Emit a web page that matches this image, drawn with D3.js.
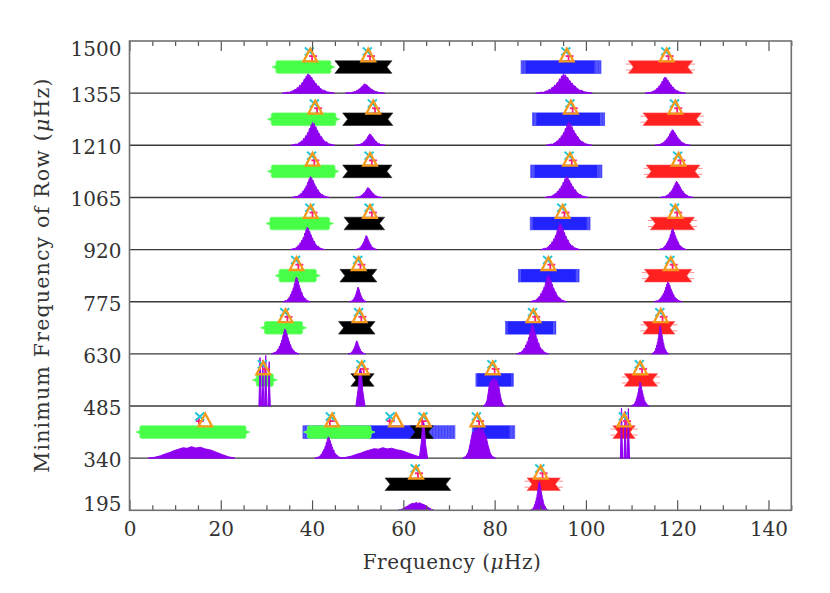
<!DOCTYPE html>
<html>
<head>
<meta charset="utf-8">
<script src="https://cdn.jsdelivr.net/npm/d3@7"></script>
<style>
body { margin: 0; background: #fff; }
</style>
</head>
<body>
<div id="chart"></div>
<script>
// lower edge of each row (uHz), rows are 145 uHz tall
var rowMins = [195, 340, 485, 630, 775, 920, 1065, 1210, 1355];
var rowSpan = 145;
var yTicks = [195, 340, 485, 630, 775, 920, 1065, 1210, 1355, 1500];
var xMajor = [0, 20, 40, 60, 80, 100, 120, 140];
var xMinor = [5, 10, 15, 25, 30, 35, 45, 50, 55, 65, 70, 75, 85, 90, 95, 105, 110, 115, 125, 130, 135, 145];

// bars: [rowMin, lo, hi]  (green ones given tip to tip)
var greenBars = [
 [1355, 31.2, 45.0], [1210, 30.2, 46.1], [1065, 30.2, 45.9], [920, 29.9, 44.7],
 [775, 31.9, 41.8], [630, 28.7, 38.8], [485, 26.9, 32.4], [340, 1.4, 26.4], [340, 38.1, 53.8]
];
var blackBars = [
 [1355, 45.0, 57.5], [1210, 46.7, 57.7], [1065, 46.7, 57.5], [920, 47.0, 55.9],
 [775, 46.1, 54.2], [630, 45.8, 53.8], [485, 48.5, 53.6], [340, 61.5, 66.6], [195, 56.0, 70.4]
];
var redBars = [
 [1355, 109.3, 123.4], [1210, 112.5, 125.3], [1065, 113.2, 125.0], [920, 114.1, 123.8],
 [775, 112.8, 123.2], [630, 112.5, 119.5], [485, 108.4, 115.7], [340, 105.9, 110.8], [195, 87.1, 94.4]
];
// blue: [rowMin, lo, coreLo, coreHi, hi]
var blueBars = [
 [1355, 85.8, 86.8, 101.9, 103.3], [1210, 88.3, 89.2, 103.1, 104.1], [1065, 87.9, 88.8, 102.5, 103.5],
 [920, 87.8, 88.4, 100.2, 100.9], [775, 85.2, 85.7, 97.8, 98.5], [630, 82.4, 82.8, 92.8, 93.4],
 [485, 75.9, 76.2, 83.7, 84.1], [340, 38.0, 39.5, 65.5, 71.3], [340, 75.1, 75.5, 83.3, 84.4]
];
// marker clusters: [rowMin, triangle, cross, asterisk]
var markers = [
 [1355, 39.6, 39.4, 40.0], [1355, 52.3, 52.1, 52.7], [1355, 95.8, 95.6, 96.2], [1355, 117.7, 117.5, 118.1],
 [1210, 40.7, 40.5, 41.1], [1210, 53.4, 53.2, 53.8], [1210, 96.7, 96.5, 97.1], [1210, 119.6, 119.4, 120.0],
 [1065, 40.1, 39.9, 40.5], [1065, 52.7, 52.5, 53.1], [1065, 96.5, 96.3, 96.9], [1065, 120.3, 120.1, 120.7],
 [920, 39.7, 39.5, 40.1], [920, 52.7, 52.5, 53.1], [920, 94.9, 94.7, 95.3], [920, 119.6, 119.4, 120.0],
 [775, 36.6, 36.4, 37.0], [775, 50.2, 50.0, 50.6], [775, 91.8, 91.6, 92.2], [775, 118.6, 118.4, 119.0],
 [630, 34.2, 34.0, 34.6], [630, 50.4, 50.2, 50.8], [630, 88.5, 88.3, 88.9], [630, 116.4, 116.2, 116.8],
 [485, 29.3, 29.1, 29.7], [485, 50.9, 50.7, 51.3], [485, 79.6, 79.4, 80.0], [485, 111.9, 111.7, 112.3],
 [340, 16.6, 15.4, 15.2], [340, 44.4, 44.0, 43.9], [340, 58.4, 57.1, 57.0], [340, 64.5, 64.3, 64.1],
 [340, 76.2, 76.0, 76.6], [340, 108.4, 108.2, 108.8],
 [195, 62.8, 62.6, 63.2], [195, 90.1, 89.9, 90.5]
];
// power peaks: [rowMin, centre, halfWidth, height (fraction of row), shape]
var peaks = [
 [1355, 39.2, 5.7, 0.37, 'm'], [1355, 51.6, 4.3, 0.18, 'm'], [1355, 95.2, 6.2, 0.37, 'm'], [1355, 117.4, 4.4, 0.31, 'm'],
 [1210, 40.2, 4.8, 0.44, 'm'], [1210, 52.7, 3.3, 0.22, 'm'], [1210, 96.3, 5.0, 0.44, 'm'], [1210, 119.0, 3.9, 0.30, 'm'],
 [1065, 39.7, 4.1, 0.40, 'm'], [1065, 52.3, 3.0, 0.19, 'm'], [1065, 95.8, 4.8, 0.40, 'm'], [1065, 119.9, 3.6, 0.31, 'm'],
 [920, 39.0, 3.8, 0.43, 'm'], [920, 51.9, 2.4, 0.27, 'm'], [920, 94.4, 4.3, 0.50, 'm'], [920, 119.0, 3.1, 0.40, 'm'],
 [775, 36.6, 3.0, 0.475, 'm'], [775, 50.1, 1.9, 0.28, 'm'], [775, 91.8, 4.0, 0.51, 'm'], [775, 118.0, 3.1, 0.38, 'm'],
 [630, 34.1, 3.0, 0.48, 'm'], [630, 49.8, 1.9, 0.25, 'm'], [630, 88.3, 3.5, 0.56, 'm'], [630, 116.3, 1.9, 0.54, 'm'],
 [485, 28.6, 0.25, 0.93, 's'], [485, 29.2, 0.25, 0.88, 's'], [485, 29.85, 0.25, 0.97, 's'], [485, 30.6, 0.25, 0.85, 's'],
 [485, 50.6, 1.0, 0.73, 's'], [485, 79.9, 2.4, 0.54, 'f'], [485, 111.9, 2.0, 0.46, 'm'],
 [340, 13.6, 9.5, 0.22, 'h'], [340, 43.6, 3.0, 0.41, 'm'], [340, 55.5, 9.5, 0.20, 'h'], [340, 64.4, 0.9, 0.70, 's'],
 [340, 76.6, 3.6, 0.59, 'f'], [340, 107.8, 0.25, 0.96, 's'], [340, 108.6, 0.25, 0.90, 's'], [340, 109.3, 0.25, 0.95, 's'],
 [195, 62.8, 4.0, 0.15, 'h'], [195, 89.8, 2.0, 0.55, 'm']
];
// normalised peak outlines: [offset (-1..1), height (0..1)]
var shapes = {
 m: [[-1, 0], [-0.9, 0.02], [-0.8, 0.05], [-0.72, 0.04], [-0.65, 0.1], [-0.58, 0.12], [-0.52, 0.2], [-0.47, 0.17],
     [-0.42, 0.31], [-0.38, 0.26], [-0.33, 0.42], [-0.29, 0.38], [-0.24, 0.56], [-0.2, 0.52], [-0.16, 0.74],
     [-0.12, 0.7], [-0.08, 0.9], [-0.05, 0.84], [-0.02, 1.0], [0.02, 0.86], [0.05, 0.95], [0.09, 0.78],
     [0.13, 0.82], [0.17, 0.64], [0.21, 0.66], [0.25, 0.5], [0.29, 0.52], [0.34, 0.36], [0.39, 0.38],
     [0.44, 0.26], [0.5, 0.22], [0.56, 0.14], [0.62, 0.15], [0.7, 0.07], [0.8, 0.05], [0.9, 0.02], [1, 0]],
 s: [[-1, 0], [-0.5, 0.45], [-0.2, 0.92], [0, 1], [0.2, 0.9], [0.5, 0.4], [1, 0]],
 f: [[-1, 0], [-0.8, 0.06], [-0.65, 0.2], [-0.55, 0.45], [-0.45, 0.72], [-0.38, 0.85], [-0.3, 0.78], [-0.22, 0.94],
     [-0.12, 0.88], [0, 1], [0.12, 0.86], [0.22, 0.94], [0.32, 0.8], [0.42, 0.7], [0.55, 0.4], [0.68, 0.16], [0.8, 0.06], [1, 0]],
 h: [[-1, 0], [-0.85, 0.08], [-0.72, 0.2], [-0.6, 0.38], [-0.5, 0.5], [-0.4, 0.66], [-0.3, 0.78], [-0.2, 0.9],
     [-0.1, 0.86], [0, 1], [0.1, 0.88], [0.2, 0.95], [0.32, 0.8], [0.45, 0.7], [0.58, 0.5], [0.7, 0.32], [0.85, 0.12], [1, 0]]
};

var W = 830, H = 593;
var x = d3.scaleLinear().domain([0, 145]).range([129.5, 791.3]);
var y = d3.scaleLinear().domain([195, 1500]).range([510.3, 41]);

var svg = d3.select('#chart').append('svg')
 .attr('width', W).attr('height', H)
 .style('font-family', 'DejaVu Serif')
 .style('background', '#fff');

var barH = 12.6, notch = 5, tip = 4;
function mid(r) { return y(r + rowSpan * 0.5); }

// row separators
svg.append('g').selectAll('line').data(rowMins.slice(1)).enter().append('line')
 .attr('x1', x(0)).attr('x2', x(145))
 .attr('y1', function(d) { return y(d); }).attr('y2', function(d) { return y(d); })
 .style('stroke', '#3a3a3a').style('stroke-width', 1.4);

// blue bars: light spread, striations, solid core
var gBlue = svg.append('g');
blueBars.forEach(function(d) {
 var c = mid(d[0]);
 gBlue.append('rect')
  .attr('x', x(d[1])).attr('width', x(d[4]) - x(d[1]))
  .attr('y', c - barH / 2).attr('height', barH)
  .style('fill', '#6e6eff').style('stroke', '#5656ff').style('stroke-width', 0.8);
 [[d[1], d[2]], [d[3], d[4]]].forEach(function(s) {
  for (var px = x(s[0]) + 1; px < x(s[1]); px += 1.5) {
   gBlue.append('line')
    .attr('x1', px).attr('x2', px).attr('y1', c - barH / 2).attr('y2', c + barH / 2)
    .style('stroke', '#2626ff').style('stroke-width', 0.8).style('opacity', 0.8);
  }
 });
 gBlue.append('rect')
  .attr('x', x(d[2])).attr('width', x(d[3]) - x(d[2]))
  .attr('y', c - barH / 2).attr('height', barH)
  .style('fill', '#2323ff');
});

// green spindles
svg.append('g').selectAll('path').data(greenBars).enter().append('path')
 .attr('d', function(d) {
  var lo = x(d[1]), hi = x(d[2]), c = mid(d[0]), h = barH / 2;
  var t = Math.min(tip, (hi - lo) / 4);
  var p = [[lo, c], [lo + t, c - 1.6], [lo + t, c - h + 1], [lo + t + 1.5, c - h], [hi - t - 1.5, c - h],
   [hi - t, c - h + 1], [hi - t, c - 1.6], [hi, c], [hi - t, c + 1.6], [hi - t, c + h - 1],
   [hi - t - 1.5, c + h], [lo + t + 1.5, c + h], [lo + t, c + h - 1], [lo + t, c + 1.6]];
  return d3.line()(p) + 'Z';
 })
 .style('fill', '#48ff48').style('stroke', '#6cff6c').style('stroke-width', 0.8);

function ribbon(d) {
 var lo = x(d[1]), hi = x(d[2]), c = mid(d[0]), h = barH / 2;
 return d3.line()([[lo, c - h], [hi, c - h], [hi - notch, c], [hi, c + h], [lo, c + h], [lo + notch, c]]) + 'Z';
}
svg.append('g').selectAll('path').data(blackBars).enter().append('path')
 .attr('d', ribbon).style('fill', '#000').style('stroke', '#222').style('stroke-width', 0.6);

var gRed = svg.append('g');
gRed.selectAll('path').data(redBars).enter().append('path')
 .attr('d', ribbon).style('fill', '#ff2020').style('stroke', '#ff5050').style('stroke-width', 0.6);
redBars.forEach(function(d) {
 var c = mid(d[0]);
 [-3, 3].forEach(function(o) {
  gRed.append('line').attr('x1', x(d[1]) - 2.5).attr('x2', x(d[1]) + 3).attr('y1', c + o).attr('y2', c + o)
   .style('stroke', '#ff9090').style('stroke-width', 1);
  gRed.append('line').attr('x1', x(d[2]) - 3).attr('x2', x(d[2]) + 2.5).attr('y1', c + o).attr('y2', c + o)
   .style('stroke', '#ff9090').style('stroke-width', 1);
 });
});

// power profiles
var gPeak = svg.append('g');
peaks.forEach(function(p) {
 var pts = shapes[p[4]].map(function(s) {
  return [x(p[1] + s[0] * p[2]), y(p[0] + s[1] * p[3] * rowSpan)];
 });
 gPeak.append('path')
  .attr('d', d3.line()(pts) + 'Z')
  .style('fill', '#8f00f0').style('stroke', '#8f00f0').style('stroke-width', 1)
  .style('stroke-linejoin', 'miter');
});

// marker clusters: pink asterisk, cyan cross, orange triangle
var gMark = svg.append('g');
markers.forEach(function(m) {
 var ty = y(m[0] + rowSpan * 0.72), cy = y(m[0] + rowSpan * 0.8);
 var tx = x(m[1]), cx = x(m[2]), ax = x(m[3]);
 [[-3, 0.5, 5, 0.5], [0, -3.5, 0, 5.5]].forEach(function(l) {
  gMark.append('line').attr('x1', ax + l[0]).attr('y1', ty + l[1]).attr('x2', ax + l[2]).attr('y2', ty + l[3])
   .style('stroke', '#ff1f7a').style('stroke-width', 1.8);
 });
 [[-4.5, -4, 4.5, 4], [-4.5, 4, 4.5, -4]].forEach(function(l) {
  gMark.append('line').attr('x1', cx + l[0]).attr('y1', cy + l[1]).attr('x2', cx + l[2]).attr('y2', cy + l[3])
   .style('stroke', '#22c6d6').style('stroke-width', 2);
 });
 gMark.append('path')
  .attr('d', d3.line()([[tx, ty - 7], [tx + 6.8, ty + 5.8], [tx - 6.8, ty + 5.8]]) + 'Z')
  .style('fill', 'none').style('stroke', '#f59a1c').style('stroke-width', 2.3).style('stroke-linejoin', 'miter');
});

// axes
var xb = svg.append('g').attr('transform', 'translate(0,' + y(195) + ')')
 .call(d3.axisBottom(x).tickValues(xMajor).tickSize(-10).tickPadding(12).tickFormat(d3.format('d')));
var xt = svg.append('g').attr('transform', 'translate(0,' + y(1500) + ')')
 .call(d3.axisTop(x).tickValues(xMajor).tickSize(-10).tickFormat(''));
var xbm = svg.append('g').attr('transform', 'translate(0,' + y(195) + ')')
 .call(d3.axisBottom(x).tickValues(xMinor).tickSize(-5).tickFormat(''));
var xtm = svg.append('g').attr('transform', 'translate(0,' + y(1500) + ')')
 .call(d3.axisTop(x).tickValues(xMinor).tickSize(-5).tickFormat(''));
var yl = svg.append('g').attr('transform', 'translate(' + x(0) + ',0)')
 .call(d3.axisLeft(y).tickValues(yTicks).tickSize(0).tickPadding(8).tickFormat(d3.format('d')));

[xb, xt, xbm, xtm, yl].forEach(function(g) {
 g.select('.domain').remove();
 g.selectAll('.tick line').style('stroke', '#555').style('stroke-width', 1.2);
 g.selectAll('text').style('font-family', 'DejaVu Serif').style('font-size', '20px').style('fill', '#333');
});
yl.selectAll('.tick text').attr('y', function(d) { return d === 1500 ? 8 : (d === 195 ? -6.6 : 2); });

// frame
svg.append('rect')
 .attr('x', x(0)).attr('y', y(1500)).attr('width', x(145) - x(0)).attr('height', y(195) - y(1500))
 .style('fill', 'none').style('stroke', '#707070').style('stroke-width', 1.6);

// titles
var xt1 = svg.append('text').attr('x', 452).attr('y', 569).attr('text-anchor', 'middle')
 .style('font-size', '20px').style('letter-spacing', '0.5px').style('fill', '#333');
xt1.append('tspan').text('Frequency (');
xt1.append('tspan').style('font-style', 'italic').text('μ');
xt1.append('tspan').text('Hz)');

var yt1 = svg.append('text').attr('transform', 'translate(49,275) rotate(-90)').attr('text-anchor', 'middle')
 .style('font-size', '20.5px').style('letter-spacing', '1.2px').style('fill', '#333');
yt1.append('tspan').text('Minimum Frequency of Row (');
yt1.append('tspan').style('font-style', 'italic').text('μ');
yt1.append('tspan').text('Hz)');
</script>
</body>
</html>
